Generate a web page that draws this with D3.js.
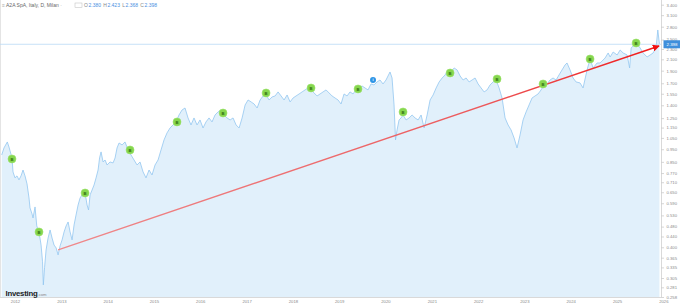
<!DOCTYPE html>
<html><head><meta charset="utf-8">
<script src="https://cdn.jsdelivr.net/npm/d3@7"></script>
<style>
html,body{margin:0;padding:0;background:#fff;overflow:hidden}
svg{display:block;font-family:"Liberation Sans",Arial,sans-serif}
</style></head>
<body>
<svg id="c" width="680" height="307"></svg>
<script>
// ---- data (decimal years, prices in EUR) ----
const years = [2011.713,2011.762,2011.834,2011.870,2011.935,2011.957,2012.000,2012.043,2012.086,2012.130,2012.173,2012.216,2012.259,2012.302,2012.324,2012.367,2012.389,2012.432,2012.469,2012.518,2012.562,2012.594,2012.611,2012.637,2012.670,2012.713,2012.756,2012.799,2012.842,2012.886,2012.929,2012.972,2013.015,2013.058,2013.102,2013.145,2013.188,2013.231,2013.274,2013.317,2013.361,2013.404,2013.447,2013.512,2013.555,2013.587,2013.620,2013.663,2013.706,2013.749,2013.793,2013.825,2013.857,2013.901,2013.944,2013.987,2014.052,2014.117,2014.160,2014.203,2014.246,2014.311,2014.376,2014.441,2014.505,2014.570,2014.635,2014.700,2014.765,2014.829,2014.894,2014.959,2015.024,2015.089,2015.153,2015.218,2015.283,2015.348,2015.413,2015.477,2015.542,2015.607,2015.672,2015.737,2015.801,2015.866,2015.931,2015.996,2016.061,2016.125,2016.190,2016.255,2016.320,2016.384,2016.449,2016.514,2016.579,2016.644,2016.708,2016.773,2016.838,2016.903,2016.968,2017.032,2017.097,2017.162,2017.227,2017.292,2017.356,2017.421,2017.486,2017.551,2017.616,2017.680,2017.745,2017.810,2017.875,2017.940,2018.004,2018.069,2018.134,2018.199,2018.263,2018.328,2018.393,2018.458,2018.523,2018.587,2018.652,2018.717,2018.782,2018.847,2018.911,2018.976,2019.041,2019.106,2019.171,2019.235,2019.300,2019.365,2019.430,2019.495,2019.559,2019.624,2019.689,2019.754,2019.819,2019.883,2019.948,2020.013,2020.056,2020.099,2020.143,2020.186,2020.218,2020.251,2020.294,2020.337,2020.380,2020.445,2020.510,2020.575,2020.639,2020.704,2020.769,2020.834,2020.899,2020.963,2021.028,2021.093,2021.158,2021.223,2021.287,2021.352,2021.417,2021.482,2021.546,2021.611,2021.676,2021.741,2021.806,2021.870,2021.935,2022.000,2022.065,2022.130,2022.194,2022.259,2022.324,2022.389,2022.454,2022.518,2022.583,2022.648,2022.713,2022.778,2022.842,2022.907,2022.972,2023.037,2023.102,2023.166,2023.231,2023.296,2023.361,2023.425,2023.490,2023.555,2023.620,2023.685,2023.749,2023.814,2023.879,2023.922,2023.987,2024.052,2024.117,2024.203,2024.268,2024.354,2024.419,2024.484,2024.570,2024.635,2024.743,2024.808,2024.851,2024.916,2025.002,2025.067,2025.132,2025.218,2025.272,2025.305,2025.369,2025.434,2025.499,2025.564,2025.650,2025.715,2025.780,2025.845,2025.881,2025.916];
const prices = [0.903,0.961,1.013,0.969,0.880,0.778,0.738,0.751,0.725,0.751,0.791,0.751,0.700,0.618,0.566,0.537,0.518,0.571,0.483,0.458,0.408,0.352,0.287,0.334,0.391,0.434,0.466,0.434,0.408,0.398,0.374,0.405,0.427,0.458,0.483,0.500,0.458,0.427,0.487,0.532,0.581,0.618,0.635,0.646,0.581,0.556,0.635,0.663,0.693,0.738,0.791,0.880,0.928,0.849,0.864,0.827,0.849,0.842,0.880,0.961,1.004,0.987,1.013,0.944,0.903,0.864,0.827,0.849,0.778,0.738,0.791,0.757,0.827,0.864,0.944,1.031,1.097,1.146,1.177,1.209,1.285,1.343,1.367,1.252,1.177,1.252,1.177,1.230,1.146,1.209,1.252,1.209,1.285,1.320,1.343,1.285,1.252,1.230,1.252,1.177,1.146,1.252,1.404,1.467,1.442,1.416,1.367,1.467,1.520,1.533,1.467,1.507,1.520,1.575,1.520,1.467,1.533,1.442,1.493,1.520,1.547,1.575,1.603,1.631,1.603,1.561,1.520,1.547,1.575,1.603,1.561,1.520,1.493,1.467,1.416,1.547,1.520,1.575,1.547,1.603,1.631,1.660,1.631,1.603,1.690,1.675,1.720,1.750,1.690,1.750,1.813,1.878,1.781,1.404,1.031,1.126,1.230,1.252,1.285,1.230,1.252,1.285,1.252,1.230,1.285,1.146,1.285,1.467,1.533,1.631,1.720,1.781,1.829,1.912,1.878,1.946,1.912,1.813,1.750,1.781,1.720,1.750,1.781,1.690,1.631,1.575,1.603,1.675,1.720,1.750,1.631,1.493,1.252,1.177,1.126,1.049,0.961,1.078,1.230,1.320,1.404,1.493,1.520,1.547,1.603,1.675,1.690,1.750,1.781,1.750,1.829,1.912,1.998,2.033,1.912,1.781,1.720,1.705,1.631,1.912,2.106,1.946,2.033,2.033,2.125,2.221,2.144,2.240,2.182,2.280,2.221,2.182,1.946,2.321,2.383,2.404,2.321,2.221,2.144,2.182,2.221,2.341,2.720,2.404];

const buyYears  = [2011.935,2012.518,2013.512,2014.484,2015.499,2016.492,2017.421,2018.393,2019.408,2020.380,2021.395,2022.410,2023.404,2024.419,2025.412];
const buyPrices = [0.872,0.458,0.646,0.944,1.209,1.308,1.561,1.631,1.617,1.320,1.862,1.766,1.690,2.106,2.426];
const infoYears  = [2019.732];
const infoPrices = [1.750];

const trendYears  = [2012.929, 2025.909];
const trendPrices = [0.391, 2.362];

const yTicks = [3.400,3.100,2.800,2.500,2.300,2.100,1.900,1.700,1.550,1.400,1.250,1.150,1.050,0.950,0.850,0.770,0.710,0.650,0.590,0.530,0.480,0.440,0.400,0.365,0.335,0.305,0.281,0.258];
const xTickYears = [2012,2013,2014,2015,2016,2017,2018,2019,2020,2021,2022,2023,2024,2025,2026];

const titleText = "A2A SpA, Italy, D, Milan";
const ohlcLabels = ["O","H","L","C"];
const ohlcValues = ["2.380","2.423","2.368","2.398"];
const lastClose = 2.398;

// ---- helpers ----
function yd(t){const y=Math.floor(t);const s=new Date(y,0,1),e=new Date(y+1,0,1);return new Date(+s+(t-y)*(e-s));}

const svg = d3.select("#c");
const plotR = 661, plotB = 297, plotT = 4.7;

const x = d3.scaleTime().domain([yd(2011.676), yd(2025.95)]).range([0, plotR]);
const y = d3.scaleLog().domain([0.258, 3.4]).range([plotB, plotT]);

const data = years.map((t,i)=>({d:yd(t), v:prices[i]}));

const defs = svg.append("defs");
defs.append("clipPath").attr("id","plotclip").append("rect").attr("x",0).attr("y",0).attr("width",plotR).attr("height",plotB);
defs.append("clipPath").attr("id","xclip").append("rect").attr("x",0).attr("y",0).attr("width",669).attr("height",12);
const grad = defs.append("linearGradient").attr("id","tg").attr("gradientUnits","userSpaceOnUse")
  .attr("x1",x(yd(trendYears[0]))).attr("x2",x(yd(trendYears[1]))).attr("y1",0).attr("y2",0);
grad.append("stop").attr("offset","0").attr("stop-color","#ef8a8c");
grad.append("stop").attr("offset","0.7").attr("stop-color","#ec5a5c");
grad.append("stop").attr("offset","1").attr("stop-color","#f01818");
defs.append("marker").attr("id","arr").attr("viewBox","0 0 10 10").attr("refX",9).attr("refY",5)
  .attr("markerWidth",5).attr("markerHeight",5).attr("markerUnits","strokeWidth").attr("orient","auto")
  .append("path").attr("d","M0,0 L10,5 L0,10 z").attr("fill","#f01010");

// left border
svg.append("line").attr("x1",0.5).attr("x2",0.5).attr("y1",0).attr("y2",plotB).attr("stroke","#e4e4e4");

const g = svg.append("g").attr("clip-path","url(#plotclip)");

// area + line
g.append("path").datum(data)
  .attr("d", d3.area().x(d=>x(d.d)).y0(plotB).y1(d=>y(d.v)))
  .attr("fill","#e1f0fb");
g.append("path").datum(data)
  .attr("d", d3.line().x(d=>x(d.d)).y(d=>y(d.v)))
  .attr("fill","none").attr("stroke","#93c6f0").attr("stroke-width",0.8).attr("stroke-linejoin","round");

// last price line
g.append("line").attr("x1",0).attr("x2",plotR).attr("y1",y(lastClose)).attr("y2",y(lastClose))
  .attr("stroke","#b9d9f6").attr("stroke-width",0.8);

// trend arrow
g.append("line")
  .attr("x1",x(yd(trendYears[0]))).attr("y1",y(trendPrices[0]))
  .attr("x2",x(yd(trendYears[1]))).attr("y2",y(trendPrices[1]))
  .attr("stroke","url(#tg)").attr("stroke-width",1.4).attr("marker-end","url(#arr)");

// buy markers
const bm = g.selectAll("g.buy").data(buyYears.map((t,i)=>({d:yd(t),v:buyPrices[i]}))).enter().append("g")
  .attr("transform",d=>`translate(${x(d.d)},${y(d.v)})`);
bm.append("circle").attr("r",4).attr("fill","#86d64e").attr("stroke","#9be26a").attr("stroke-width",0.6);
bm.append("text").text("B").attr("text-anchor","middle").attr("dy",1.6).attr("font-size",4.2)
  .attr("font-weight","bold").attr("fill","#2f6b12");

const im = g.selectAll("g.info").data(infoYears.map((t,i)=>({d:yd(t),v:infoPrices[i]}))).enter().append("g")
  .attr("transform",d=>`translate(${x(d.d)},${y(d.v)})`);
im.append("circle").attr("r",3).attr("fill","#2e95e6");
im.append("text").text("i").attr("text-anchor","middle").attr("dy",1.3).attr("font-size",3.6)
  .attr("font-weight","bold").attr("fill","#fff");

// right axis
svg.append("line").attr("x1",plotR+0.5).attr("x2",plotR+0.5).attr("y1",0).attr("y2",plotB)
  .attr("stroke","#cfcfcf").attr("stroke-width",0.8);
const ya = svg.append("g").attr("transform",`translate(${plotR+0.5},0)`)
  .call(d3.axisRight(y).tickValues(yTicks).tickFormat(d3.format(".3f")).tickSize(2.5).tickPadding(2.5));
ya.select(".domain").remove();
ya.selectAll(".tick line").attr("stroke","#bbb").attr("stroke-width",0.6);
ya.selectAll(".tick text").attr("font-size",4.2).attr("fill","#8a8a8a").attr("font-family","Liberation Sans, Arial, sans-serif");

// last price box
const bx = svg.append("g").attr("transform",`translate(${plotR+2.5},${y(lastClose)})`);
bx.append("rect").attr("x",0).attr("y",-4).attr("width",17).attr("height",8).attr("fill","#3f8fdc");
bx.append("text").text(d3.format(".3f")(lastClose)).attr("x",8.5).attr("dy",1.5).attr("text-anchor","middle")
  .attr("font-size",4.4).attr("fill","#fff");

// bottom axis
svg.append("line").attr("x1",0).attr("x2",plotR+1).attr("y1",plotB+0.5).attr("y2",plotB+0.5)
  .attr("stroke","#cfcfcf").attr("stroke-width",0.8);
const xa = svg.append("g").attr("transform",`translate(0,${plotB+0.5})`).attr("clip-path","url(#xclip)")
  .call(d3.axisBottom(x).tickValues(xTickYears.map(yd)).tickFormat(d3.timeFormat("%Y")).tickSize(0).tickPadding(3));
xa.select(".domain").remove();
xa.selectAll(".tick text").attr("font-size",4.2).attr("fill","#8a8a8a").attr("font-family","Liberation Sans, Arial, sans-serif");

// title line
const tt = svg.append("text").attr("x",2).attr("y",7).attr("font-size",5).attr("fill","#777");
tt.append("tspan").text("≡ ").attr("fill","#aaa");
tt.append("tspan").text(titleText).attr("fill","#666");
tt.append("tspan").text(" · ").attr("fill","#999");
const tx = svg.append("text").attr("x",84).attr("y",7).attr("font-size",5);
svg.append("rect").attr("x",75).attr("y",3).attr("width",7).attr("height",4.5).attr("fill","none").attr("stroke","#bbb").attr("stroke-width",0.5);
ohlcLabels.forEach((l,i)=>{
  tx.append("tspan").text(l).attr("fill","#888").attr("dx", i?2.2:0);
  tx.append("tspan").text(ohlcValues[i]).attr("fill","#4a90e2").attr("dx",0.6);
});

// Investing logo
const lg = svg.append("text").attr("x",5.5).attr("y",295.5);
lg.append("tspan").text("Investing").attr("font-size",7.8).attr("font-weight","bold").attr("fill","#222").attr("letter-spacing",-0.25);
lg.append("tspan").text(".com").attr("font-size",4.2).attr("fill","#888");
</script>
</body></html>
